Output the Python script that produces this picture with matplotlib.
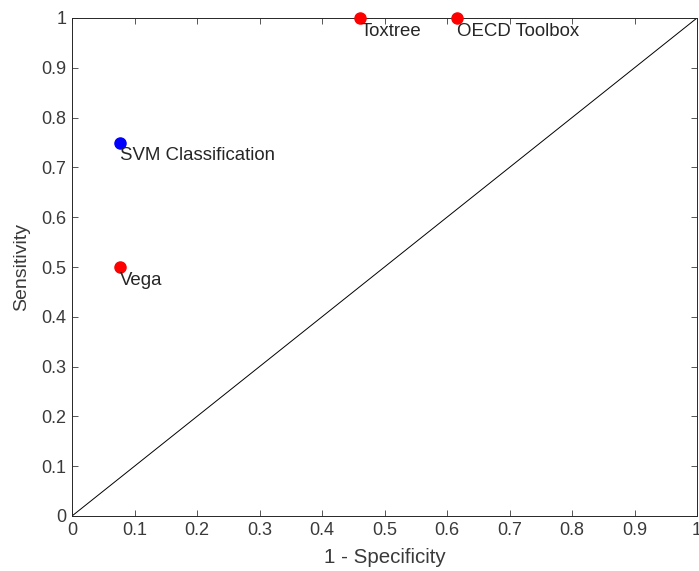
import matplotlib.pyplot as plt

plt.rcParams['font.family'] = ['Liberation Sans', 'DejaVu Sans']

# tools evaluated in ROC space
tool_names = ['Toxtree', 'OECD Toolbox', 'SVM Classification', 'Vega']
fpr = [6 / 13, 8 / 13, 1 / 13, 1 / 13]   # 1 - specificity
tpr = [1.0, 1.0, 0.75, 0.5]              # sensitivity
tool_colors = ['red', 'red', 'blue', 'red']

ticks = [0, 0.1, 0.2, 0.3, 0.4, 0.5, 0.6, 0.7, 0.8, 0.9, 1]
tick_labels = ['0', '0.1', '0.2', '0.3', '0.4', '0.5', '0.6', '0.7', '0.8', '0.9', '1']

fig = plt.figure(figsize=(6.99, 5.71), dpi=100)
ax = fig.add_axes([72 / 699, 1 - 516 / 571, 625 / 699, 498 / 571])

# chance line
ax.plot([0, 1], [0, 1], color='black', lw=0.7)

for name, x, y, c in zip(tool_names, fpr, tpr, tool_colors):
    ax.plot(x, y, 'o', color=c, ms=8, clip_on=False, zorder=3)
    ax.annotate(name, (x, y), xytext=(0, -9.5), textcoords='offset points',
                ha='left', va='center', fontsize=13.4, color='#262626',
                annotation_clip=False)

ax.set_xlim(0, 1)
ax.set_ylim(0, 1)
ax.set_xticks(ticks)
ax.set_xticklabels(tick_labels)
ax.set_yticks(ticks)
ax.set_yticklabels(tick_labels)
ax.tick_params(direction='in', top=True, right=True, labelsize=13,
               colors='#3a3a3a', length=4, width=0.6, pad=4)
for s in ax.spines.values():
    s.set_color('#262626')
    s.set_linewidth(0.7)

ax.set_xlabel('1 - Specificity', fontsize=14.8, color='#3a3a3a', va='center')
ax.set_ylabel('Sensitivity', fontsize=14, color='#3a3a3a', va='center')
ax.xaxis.set_label_coords(0.5, -0.084)
ax.yaxis.set_label_coords(-0.08, 0.5)

fig.savefig('out.png', dpi=100)
